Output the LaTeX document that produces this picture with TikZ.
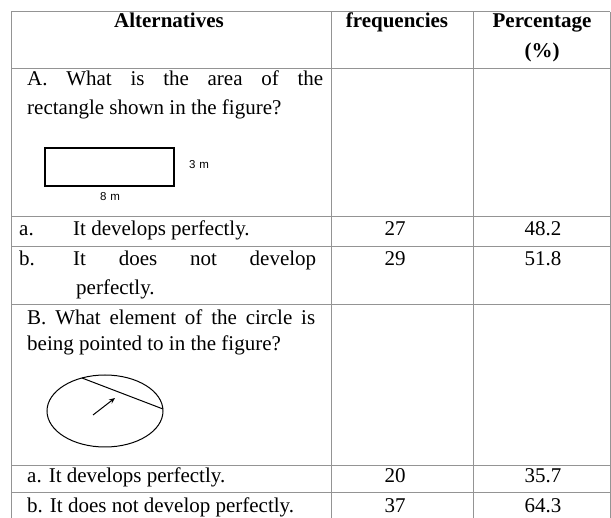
\documentclass[tikz,border=0pt]{standalone}
\usepackage{fontspec}
\setmainfont{Liberation Serif}
\newfontfamily\lsans{Liberation Sans}
\usetikzlibrary{arrows.meta}
\begin{document}
\begin{tikzpicture}[x=1pt,y=-1pt,
  gridline/.style={draw=black!42, line width=1pt},
  txt/.style={inner sep=0pt, font=\fontsize{21}{25}\selectfont},
  lt/.style={txt, anchor=mid west},
  ct/.style={txt, anchor=mid},
  hd/.style={inner sep=0pt, anchor=mid, font=\fontsize{21}{25}\selectfont\bfseries},
  fig/.style={draw=black, line width=1.3pt},
  dimlab/.style={inner sep=0pt, anchor=mid, font=\lsans\fontsize{11.5}{13}\selectfont}]
\useasboundingbox (0,0) rectangle (611,518);
\clip (0,0) rectangle (611,518);
% grid
\foreach \yy in {12,69,217,247,305,466,493}
  \draw[gridline] (11,\yy) -- (610,\yy);
\foreach \xx in {11,331,473,610}
  \draw[gridline] (\xx,12) -- (\xx,530);
% header
\node[hd] (h1) at (169,25) {Alternatives};
\node[hd] (h2) at (397,25) {frequencies};
\node[hd] (h3) at (542,25) {Percentage};
\node[hd] (h3b) at (542,55) {(\%)};
% question A
\node[lt] (qa1) at (27,83) {\makebox[296pt][s]{A. What is the area of the}};
\node[lt] (qa2) at (27,112) {rectangle shown in the figure?};
\draw[fig] (45,148) rectangle (174,186);
\node[dimlab] (d3) at (199,166) {3\,\,m};
\node[dimlab] (d8) at (110,198) {8\,\,m};
% answers A
\node[lt] (aa) at (19,233) {a.};
\node[lt] (aat) at (73,233) {It develops perfectly.};
\node[ct] (aaf) at (395,233) {27};
\node[ct] (aap) at (543,233) {48.2};
\node[lt] (ab) at (19,263) {b.};
\node[lt] (abt) at (73,263) {\makebox[243pt][s]{It does not develop}};
\node[lt] (abt2) at (76,292) {perfectly.};
\node[ct] (abf) at (395,263) {29};
\node[ct] (abp) at (543,263) {51.8};
% question B
\node[lt] (qb1) at (27,322) {\makebox[288pt][s]{B. What element of the circle is}};
\node[lt] (qb2) at (27,348) {being pointed to in the figure?};
\draw[fig, line width=1pt] (105,411) ellipse [x radius=58, y radius=36];
\coordinate (c1) at (82,378);
\coordinate (c2) at (163,409);
\draw[fig, line width=1pt] (c1) -- (c2);
\coordinate (p1) at (93,415);
\coordinate (p2) at (115,398);
\draw[fig, line width=1pt, -{Stealth[length=6pt,width=5pt]}] (p1) -- (p2);
% answers B
\node[lt] (ba) at (27,480) {a. It develops perfectly.};
\node[ct] (baf) at (395,480) {20};
\node[ct] (bap) at (543,480) {35.7};
\node[lt] (bb) at (27,510) {b. It does not develop perfectly.};
\node[ct] (bbf) at (395,510) {37};
\node[ct] (bbp) at (543,510) {64.3};
\end{tikzpicture}
\end{document}
